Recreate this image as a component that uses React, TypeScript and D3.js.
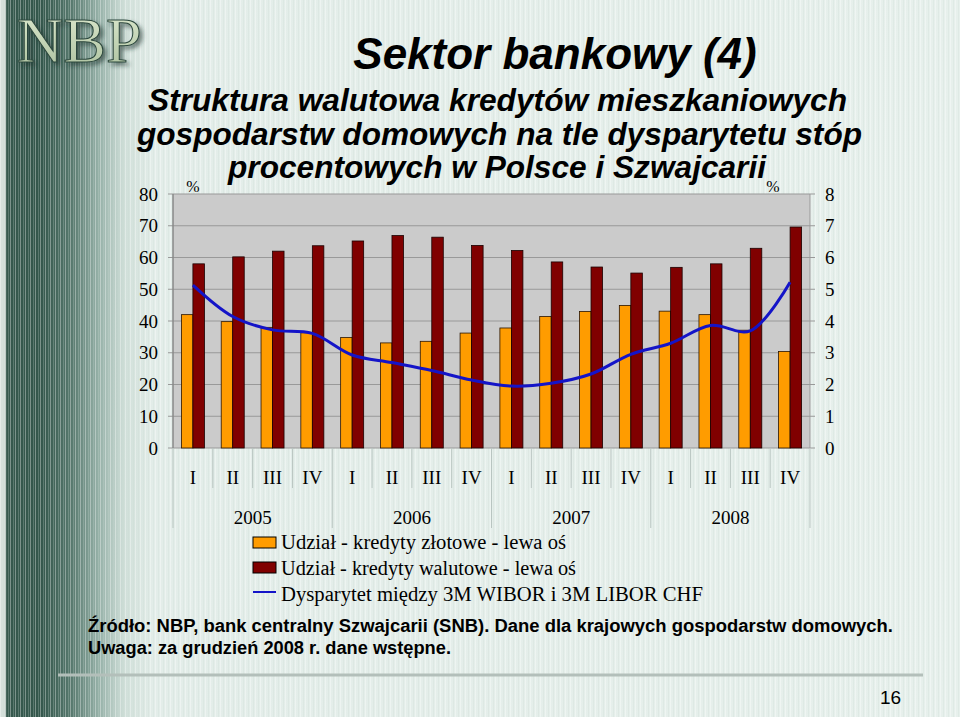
import React from "react";
import * as d3 from "d3";

const quarters = ["I", "II", "III", "IV", "I", "II", "III", "IV", "I", "II", "III", "IV", "I", "II", "III", "IV"];
const years = ["2005", "2006", "2007", "2008"];
const zlotowe = [42.0, 39.8, 38.0, 36.3, 34.8, 33.1, 33.6, 36.2, 37.8, 41.4, 43.0, 44.9, 43.1, 42.0, 37.1, 30.4];
const walutowe = [58.0, 60.2, 62.0, 63.7, 65.2, 66.9, 66.4, 63.8, 62.2, 58.6, 57.0, 55.1, 56.9, 58.0, 62.9, 69.6];
const dysparytet = [5.13, 4.14, 3.72, 3.61, 2.93, 2.69, 2.44, 2.14, 1.95, 2.04, 2.33, 2.95, 3.30, 3.86, 3.69, 5.22];
const leftTicks = [0, 10, 20, 30, 40, 50, 60, 70, 80];
const rightTicks = [0, 1, 2, 3, 4, 5, 6, 7, 8];
const legendItems = [
  "Udział - kredyty złotowe - lewa oś",
  "Udział - kredyty walutowe - lewa oś",
  "Dysparytet między 3M WIBOR i 3M LIBOR CHF",
];

const W = 960;
const H = 717;
const PL = 173, PR = 810, PT = 194, PB = 448;
const SERIF = "'Liberation Serif', 'Times New Roman', serif";
const SANS = "'Liberation Sans', Arial, sans-serif";
const ORANGE = "#ff9c00";
const DARKRED = "#800000";
const BLUE = "#1414c8";

export default function App() {
  const idx = quarters.map((_, i) => i);
  const x = d3.scaleBand<number>().domain(idx).range([PL, PR]).paddingInner(0).paddingOuter(0);
  const sub = d3.scaleBand<string>().domain(["zl", "wal"]).range([0, x.bandwidth()]).paddingInner(0).paddingOuter(0.73);
  const yL = d3.scaleLinear().domain([0, 80]).range([PB, PT]);
  const yR = d3.scaleLinear().domain([0, 8]).range([PB, PT]);
  const cx = (i: number) => (x(i) as number) + x.bandwidth() / 2;
  const line = d3
    .line<number>()
    .x((_, i) => cx(i))
    .y((d) => yR(d))
    .curve(d3.curveCatmullRom.alpha(0.5));

  const bw = sub.bandwidth();
  const yearWidth = x.bandwidth() * 4;

  return (
    <svg width={W} height={H} style={{ position: "absolute", left: 0, top: 0 }} xmlns="http://www.w3.org/2000/svg">
      <defs>
        <linearGradient id="bg" x1="0" x2="1" y1="0" y2="0">
          <stop offset="0" stopColor="#d5e0db" />
          <stop offset="0.005" stopColor="#d5e0db" />
          <stop offset="0.007" stopColor="#36594e" />
          <stop offset="0.042" stopColor="#34574c" />
          <stop offset="0.073" stopColor="#55776c" />
          <stop offset="0.104" stopColor="#98b3aa" />
          <stop offset="0.13" stopColor="#d0dfd9" />
          <stop offset="0.16" stopColor="#e3ede9" />
          <stop offset="1" stopColor="#e7f0ec" />
        </linearGradient>
        <pattern id="stripes" width="5" height="10" patternUnits="userSpaceOnUse">
          <rect x="0" y="0" width="1" height="10" fill="#ffffff" opacity="0.35" />
          <rect x="3" y="0" width="1" height="10" fill="#c9d6d1" opacity="0.25" />
        </pattern>
        <linearGradient id="logoFill" x1="0" x2="0" y1="0" y2="1">
          <stop offset="0" stopColor="#dfead0" />
          <stop offset="1" stopColor="#a9bf9c" />
        </linearGradient>
        <linearGradient id="sep" x1="0" x2="1" y1="0" y2="0">
          <stop offset="0" stopColor="#5f6f69" stopOpacity="0" />
          <stop offset="0.08" stopColor="#5f6f69" stopOpacity="1" />
          <stop offset="1" stopColor="#5f6f69" stopOpacity="1" />
        </linearGradient>
        <filter id="shadow" x="-10%" y="-10%" width="130%" height="140%">
          <feDropShadow dx="3" dy="3" stdDeviation="2" floodColor="#1d3029" floodOpacity="0.6" />
        </filter>
      </defs>

      {/* background */}
      <rect x={0} y={0} width={W} height={H} fill="url(#bg)" />
      <rect x={0} y={0} width={W} height={H} fill="url(#stripes)" />

      {/* logo */}
      <text
        x={17}
        y={62}
        fontFamily={SERIF}
        fontSize={64}
        fill="url(#logoFill)"
        stroke="#2b463c"
        strokeWidth={1}
        filter="url(#shadow)"
      >
        NBP
      </text>

      {/* titles */}
      <text x={555} y={69} textAnchor="middle" fontFamily={SANS} fontSize={44} fontWeight="bold" fontStyle="italic" fill="#000">
        Sektor bankowy (4)
      </text>
      <g fontFamily={SANS} fontWeight="bold" fontStyle="italic" fontSize={31} fill="#000">
        <text x={148} y={111} textLength={699} lengthAdjust="spacingAndGlyphs">Struktura walutowa kredytów mieszkaniowych</text>
        <text x={137} y={145} textLength={725} lengthAdjust="spacingAndGlyphs">gospodarstw domowych na tle dysparytetu stóp</text>
        <text x={228} y={178} textLength={538} lengthAdjust="spacingAndGlyphs">procentowych w Polsce i Szwajcarii</text>
      </g>

      {/* plot background */}
      <rect x={PL} y={PT} width={PR - PL} height={PB - PT} fill="#cbcbcb" />
      {leftTicks.map((t) => (
        <line key={"g" + t} x1={PL - 5} x2={PR + 5} y1={yL(t)} y2={yL(t)} stroke="#999" strokeWidth={1} />
      ))}
      <line x1={PL} x2={PL} y1={PT} y2={PB} stroke="#888" strokeWidth={1.5} />
      <line x1={PR} x2={PR} y1={PT} y2={PB} stroke="#999" strokeWidth={1} />

      {/* bars */}
      {zlotowe.map((v, i) => (
        <rect
          key={"z" + i}
          x={(x(i) as number) + (sub("zl") as number)}
          y={yL(v)}
          width={bw}
          height={PB - yL(v)}
          fill={ORANGE}
          stroke="#2a1500"
          strokeWidth={0.8}
        />
      ))}
      {walutowe.map((v, i) => (
        <rect
          key={"w" + i}
          x={(x(i) as number) + (sub("wal") as number)}
          y={yL(v)}
          width={bw}
          height={PB - yL(v)}
          fill={DARKRED}
          stroke="#1a0000"
          strokeWidth={0.8}
        />
      ))}

      {/* line */}
      <path d={line(dysparytet) || ""} fill="none" stroke={BLUE} strokeWidth={3} strokeLinejoin="round" />

      {/* axes labels */}
      <g fontFamily={SERIF} fontSize={19} fill="#000">
        {leftTicks.map((t) => (
          <text key={"l" + t} x={158} y={yL(t) + 6.5} textAnchor="end">
            {t}
          </text>
        ))}
        {rightTicks.map((t) => (
          <text key={"r" + t} x={825} y={yR(t) + 6.5} textAnchor="start">
            {t}
          </text>
        ))}
      </g>
      <text x={193} y={192} fontFamily={SERIF} fontSize={16} textAnchor="middle">%</text>
      <text x={773} y={192} fontFamily={SERIF} fontSize={16} textAnchor="middle">%</text>

      {/* category axis separators */}
      {d3.range(17).map((i) => {
        const xx = i < 16 ? (x(i) as number) : PR;
        const long = i % 4 === 0;
        return (
          <line key={"s" + i} x1={xx} x2={xx} y1={PB} y2={long ? 528 : 488} stroke="#b9c5c1" strokeWidth={1} />
        );
      })}
      <g fontFamily={SERIF} fontSize={19} fill="#000" textAnchor="middle">
        {quarters.map((q, i) => (
          <text key={"q" + i} x={cx(i)} y={484}>
            {q}
          </text>
        ))}
        {years.map((yv, j) => (
          <text key={"y" + j} x={PL + yearWidth * j + yearWidth / 2} y={524}>
            {yv}
          </text>
        ))}
      </g>

      {/* legend */}
      <g fontFamily={SERIF} fontSize={20} fill="#000">
        <rect x={253} y={537} width={23} height={11} fill={ORANGE} stroke="#000" strokeWidth={1} />
        <text x={281} y={549} textLength={285} lengthAdjust="spacingAndGlyphs">{legendItems[0]}</text>
        <rect x={253} y={562} width={23} height={11} fill={DARKRED} stroke="#000" strokeWidth={1} />
        <text x={281} y={575} textLength={295} lengthAdjust="spacingAndGlyphs">{legendItems[1]}</text>
        <line x1={253} x2={276} y1={592} y2={592} stroke={BLUE} strokeWidth={2} />
        <text x={281} y={601} textLength={422} lengthAdjust="spacingAndGlyphs">{legendItems[2]}</text>
      </g>

      {/* footer */}
      <g fontFamily={SANS} fontWeight="bold" fontSize={18} fill="#000">
        <text x={88} y={632} textLength={805} lengthAdjust="spacingAndGlyphs">
          Źródło: NBP, bank centralny Szwajcarii (SNB). Dane dla krajowych gospodarstw domowych.
        </text>
        <text x={88} y={654} textLength={363} lengthAdjust="spacingAndGlyphs">
          Uwaga: za grudzień 2008 r. dane wstępne.
        </text>
      </g>

      {/* separator */}
      <line x1={58} x2={923} y1={675} y2={675} stroke="#b3bfba" strokeWidth={3} />
      <line x1={58} x2={923} y1={673} y2={673} stroke="url(#sep)" strokeWidth={2} />

      <text x={880} y={704} fontFamily={SANS} fontSize={19} fill="#000">16</text>
    </svg>
  );
}
